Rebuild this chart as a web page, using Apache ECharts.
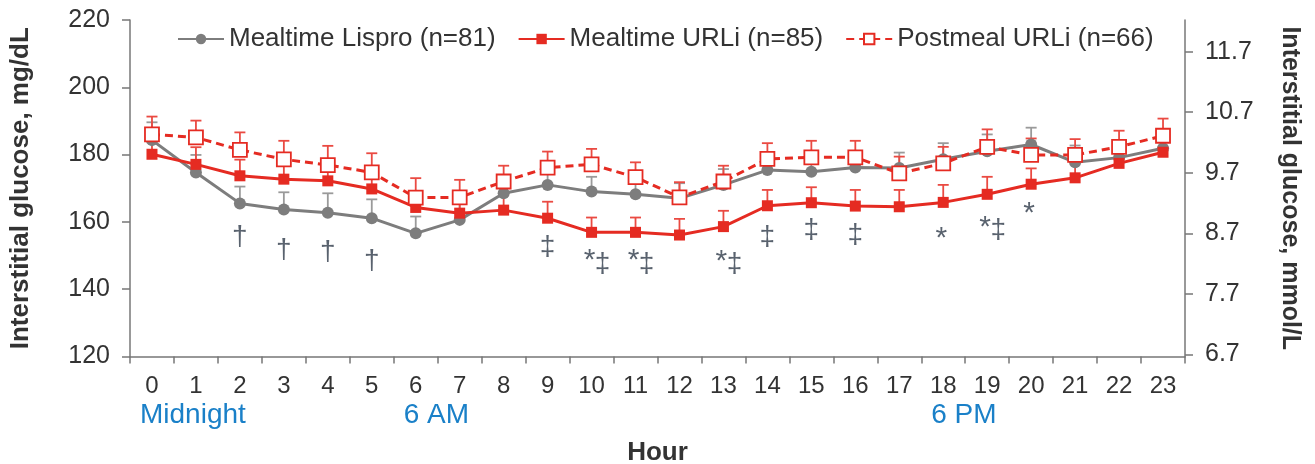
<!DOCTYPE html>
<html>
<head>
<meta charset="utf-8">
<script src="https://cdn.jsdelivr.net/npm/echarts@6/dist/echarts.min.js"></script>
<style>
html,body{margin:0;padding:0;background:#fff;}
#chart{width:1315px;height:464px;}
</style>
</head>
<body>
<div id="chart"></div>
<script>
const hours = ['0','1','2','3','4','5','6','7','8','9','10','11','12','13','14','15','16','17','18','19','20','21','22','23'];
const lispro    = [184.3,174.7,165.5,163.7,162.7,161.1,156.6,160.6,168.5,171.0,169.0,168.2,167.0,171.0,175.4,174.9,176.2,176.0,178.6,181.0,183.0,177.7,179.1,181.9];
const lisproErr = [5.3,5.2,5.0,5.1,5.8,5.6,5.0,5.0,5.0,5.0,4.4,4.5,4.5,4.7,4.7,4.8,4.8,4.6,4.8,5.0,5.0,5.0,4.8,4.8];
const urli      = [180.1,177.1,173.7,172.7,172.2,169.8,164.3,162.6,163.5,161.1,156.9,156.9,156.1,158.6,164.8,165.7,164.7,164.5,165.8,168.2,171.2,173.1,177.4,180.7];
const urliErr   = [5.0,5.1,4.8,4.8,4.9,4.9,4.8,4.8,4.8,4.9,4.4,4.4,4.8,4.7,4.7,4.6,4.8,5.0,5.2,5.2,4.7,4.5,4.5,4.5];
const postmeal  = [186.0,185.1,181.4,178.6,176.9,174.7,167.2,167.3,172.0,176.1,177.1,173.3,167.3,172.0,178.7,179.2,179.2,174.4,177.4,182.3,179.9,179.9,182.3,185.6];
const postmealErr = [5.3,5.0,5.2,5.5,5.7,5.7,5.8,5.2,4.7,4.8,4.6,4.4,4.5,4.7,4.7,4.9,4.9,5.0,4.9,5.2,4.9,4.7,4.8,5.1];

const leftTicks  = [120,140,160,180,200,220];
const rightTicks = [6.7,7.7,8.7,9.7,10.7,11.7];
const mgPerMmol = 18;

// significance markers (hour index, y position in mg/dL)
const daggerHours = [2,3,4,5];
const daggerY     = [156.1,152.2,151.6,149.0];
const ddaggerHours = [9,14,15,16];
const ddaggerY     = [153.1,156.1,158.2,156.7];
const starHours = [10,11,13,18,19,20];
const starY     = [150.5,150.5,150.2,157.0,160.2,164.5];
const pairedDdaggerHours = [10,11,13,19];
const pairedDdaggerY     = [148.1,148.1,148.1,158.2];

const timeLabels = ['Midnight','6 AM','6 PM'];
const timeLabelHours = [0,6,18];

const GRAY = '#7d7d7d', RED = '#e52b22', BLUE = '#1a80c8', MARK = '#2f3b4a';
const FONT = 'Liberation Sans, Arial, sans-serif';

function errSeries(vals, errs, color, z) {
  return {
    type: 'custom',
    z: z,
    silent: true,
    data: vals.map((v, i) => [i, v, errs[i]]),
    encode: {x: 0, y: 1},
    renderItem: function (params, api) {
      const x = api.value(0), y = api.value(1), e = api.value(2);
      const p0 = api.coord([x, y]);
      const p1 = api.coord([x, y + e]);
      return {
        type: 'group',
        children: [
          {type: 'line', shape: {x1: p0[0], y1: p0[1], x2: p1[0], y2: p1[1]}, style: {stroke: color, lineWidth: 1.8}},
          {type: 'line', shape: {x1: p1[0] - 5.5, y1: p1[1], x2: p1[0] + 5.5, y2: p1[1]}, style: {stroke: color, lineWidth: 1.8}}
        ]
      };
    }
  };
}

function markSeries(hs, ys, text, offset, size) {
  return {
    type: 'scatter',
    symbolSize: 0,
    silent: true,
    z: 5,
    data: hs.map((h, i) => [h, ys[i]]),
    label: {show: true, position: 'inside', formatter: text, color: MARK, fontSize: size, fontFamily: FONT, offset: offset}
  };
}

const chart = echarts.init(document.getElementById('chart'));
const option = {
  animation: false,
  grid: {left: 130, right: 130, top: 20, bottom: 107.5, containLabel: false, outerBoundsMode: 'none'},
  legend: {
    data: ['Mealtime Lispro (n=81)', 'Mealtime URLi (n=85)', 'Postmeal URLi (n=66)'],
    left: 177, top: 26, padding: 0, itemWidth: 46, itemHeight: 13, itemGap: 22,
    textStyle: {fontSize: 26, color: '#333', fontFamily: FONT}
  },
  xAxis: {
    type: 'category', data: hours, boundaryGap: true,
    name: 'Hour', nameLocation: 'middle', nameGap: 83,
    nameTextStyle: {fontSize: 26, fontWeight: 'bold', color: '#333', fontFamily: FONT},
    axisLine: {lineStyle: {color: '#777', width: 1.5}},
    axisTick: {show: true, alignWithLabel: false, length: 7, lineStyle: {color: '#777', width: 1.5}},
    axisLabel: {fontSize: 24, color: '#333', margin: 18, fontFamily: FONT, interval: 0},
    splitLine: {show: false}
  },
  yAxis: [
    {
      type: 'value', min: 120, max: 220, interval: 20, position: 'left',
      name: 'Interstitial glucose, mg/dL', nameLocation: 'middle', nameGap: 96, nameRotate: 90,
      nameTextStyle: {fontSize: 26, fontWeight: 'bold', color: '#333', fontFamily: FONT},
      axisLine: {show: true, lineStyle: {color: '#777', width: 1.5}},
      axisTick: {show: true, length: 8, lineStyle: {color: '#777', width: 1.5}},
      axisLabel: {fontSize: 25, color: '#333', margin: 20, fontFamily: FONT,
        customValues: leftTicks},
      splitLine: {show: false}
    },
    {
      type: 'value', min: 120, max: 220, position: 'right',
      name: 'Interstitial glucose, mmol/L', nameLocation: 'middle', nameGap: 92, nameRotate: -90,
      nameTextStyle: {fontSize: 25, fontWeight: 'bold', color: '#333', fontFamily: FONT},
      axisLine: {show: true, lineStyle: {color: '#777', width: 1.5}},
      axisTick: {show: true, length: 8, lineStyle: {color: '#777', width: 1.5},
        customValues: rightTicks.map(v => v * mgPerMmol)},
      axisLabel: {fontSize: 25, color: '#333', margin: 20, fontFamily: FONT,
        customValues: rightTicks.map(v => v * mgPerMmol),
        formatter: v => (v / mgPerMmol).toFixed(1)},
      splitLine: {show: false}
    }
  ],
  series: [
    errSeries(lispro, lisproErr, '#9a9a9a', 1),
    errSeries(urli, urliErr, '#ea4a42', 1),
    errSeries(postmeal, postmealErr, '#ea4a42', 1),
    {
      name: 'Mealtime Lispro (n=81)', type: 'line', data: lispro, z: 3,
      symbol: 'circle', symbolSize: 12, showSymbol: true,
      lineStyle: {color: GRAY, width: 3}, itemStyle: {color: GRAY}
    },
    {
      name: 'Mealtime URLi (n=85)', type: 'line', data: urli, z: 3,
      symbol: 'rect', symbolSize: 11,
      lineStyle: {color: RED, width: 3}, itemStyle: {color: RED}
    },
    {
      name: 'Postmeal URLi (n=66)', type: 'line', data: postmeal, z: 4,
      symbol: 'rect', symbolSize: 14,
      lineStyle: {color: RED, width: 3, type: [8, 5]},
      itemStyle: {color: '#fff', borderColor: RED, borderWidth: 1.8}
    },
    markSeries(daggerHours, daggerY, '†', [0, 2], 28),
    markSeries(ddaggerHours, ddaggerY, '‡', [0, 2], 28),
    markSeries(starHours, starY, '*', [-2, 7], 30),
    markSeries(pairedDdaggerHours, pairedDdaggerY, '‡', [11, 2], 28)
  ]
};
chart.setOption(option);

const graphics = timeLabelHours.map((h, i) => {
  const px = chart.convertToPixel({xAxisIndex: 0}, hours[h]);
  return {
    type: 'text', left: px - 12, top: 401,
    style: {text: timeLabels[i], fill: BLUE, fontSize: 28, fontFamily: FONT}
  };
});
chart.setOption({graphic: graphics});
</script>
</body>
</html>
